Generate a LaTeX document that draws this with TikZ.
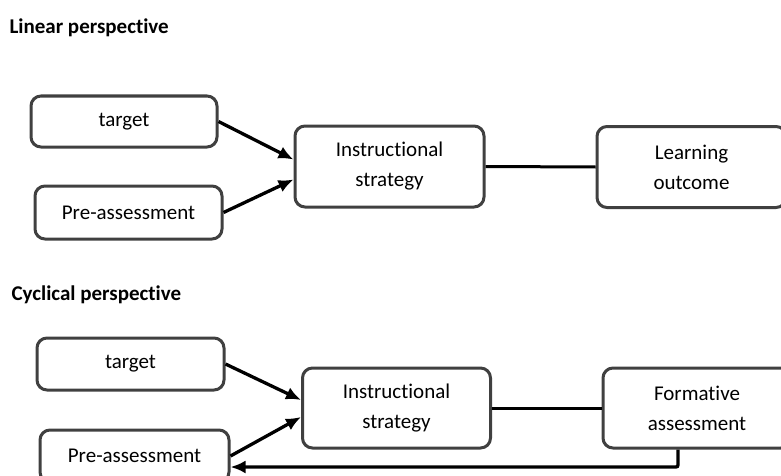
\documentclass[tikz,border=0pt]{standalone}
\usepackage{fontspec}
\setmainfont{Carlito}[Ligatures=NoCommon]
\usepackage{xcolor}
\usetikzlibrary{arrows.meta,positioning}

\definecolor{boxline}{HTML}{404040}

\begin{document}
\begin{tikzpicture}[x=1pt,y=1pt,
    box/.style={rectangle, rounded corners=10pt, draw=boxline, line width=3pt, align=center, font=\fontsize{21}{30}\selectfont},
    heading/.style={anchor=west, font=\fontsize{21}{25}\selectfont\bfseries},
    arr/.style={-{Latex[length=15pt,width=13pt]}, line width=3.3pt},
    link/.style={line width=3pt}]
    \useasboundingbox (0,0) rectangle (781,475);
    \clip (0,0) rectangle (781,475);

    % linear perspective
    \node (linear) [heading] at (6,447) {Linear perspective};
    \node (tgtA) [box, minimum width=186pt, minimum height=51pt] at (124,353.5) {target};
    \node (preA) [box, minimum width=187pt, minimum height=53pt] at (128.5,262.5) {Pre-assessment};
    \node (instrA) [box, minimum width=189pt, minimum height=81pt] at (389.5,308.5) {Instructional\\strategy};
    \node (learnA) [box, minimum width=189pt, minimum height=81pt] at (691.5,308) {Learning\\outcome};

    \draw [arr] (tgtA.east) -- ([yshift=7pt]instrA.west);
    \draw [arr] (preA.east) -- ([yshift=-13pt]instrA.west);
    \draw [link] (instrA.east) -- (learnA.west);

    % cyclical perspective
    \node (cyclical) [heading] at (8,180) {Cyclical perspective};
    \node (tgtB) [box, minimum width=187pt, minimum height=52pt] at (130.5,111) {target};
    \node (preB) [box, minimum width=189pt, minimum height=52pt] at (134.5,19) {Pre-assessment};
    \node (instrB) [box, minimum width=188pt, minimum height=80pt] at (396.5,67) {Instructional\\strategy};
    \node (formB) [box, minimum width=188pt, minimum height=80pt] at (697,67) {Formative\\assessment};

    \draw [arr] (tgtB.east) -- ([yshift=8pt]instrB.west);
    \draw [arr] (preB.east) -- ([yshift=-9pt]instrB.west);
    \draw [link] (instrB.east) -- (formB.west);

    \coordinate (turn) at (678,8);
    \draw [arr, rounded corners=2pt] (formB.south -| turn) -- (turn) -- (turn -| preB.east);
\end{tikzpicture}
\end{document}
